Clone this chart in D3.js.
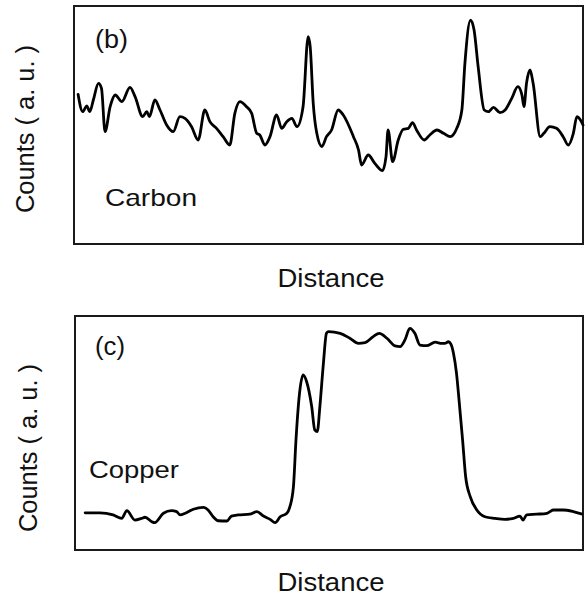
<!DOCTYPE html>
<html>
<head>
<meta charset="UTF-8">
<title>Line scans</title>
<script src="https://d3js.org/d3.v7.min.js"></script>
<style>
html, body { margin: 0; padding: 0; background: #fff; }
svg { display: block; }
text { font-family: "Liberation Sans", Arial, sans-serif; fill: #111; }
</style>
</head>
<body>
<div id="chart"></div>
<script>
// carbon line scan, panel (b) - distance (0-100) and counts (0-100, arbitrary)
var carbonDist = [0.8,1.7,2.5,3.1,3.8,4.8,5.4,6.1,7.1,8.1,9.4,11.0,12.0,13.5,14.3,14.8,15.9,16.9,18.2,19.5,
  20.8,21.8,23.1,24.4,25.7,26.7,28.0,29.3,30.6,31.6,32.6,33.9,34.9,35.9,36.5,37.5,38.5,39.8,40.8,41.8,
  42.8,43.8,45.0,46.0,46.4,47.0,47.7,48.7,49.6,50.6,51.9,52.9,54.9,55.9,56.5,57.8,59.1,60.6,61.3,61.7,
  62.6,63.7,64.7,65.7,66.5,67.3,68.8,69.9,71.3,72.6,73.9,75.2,76.2,76.8,77.9,78.6,79.4,80.6,81.4,82.4,
  83.7,84.7,86.0,87.2,88.0,88.4,88.9,89.6,90.2,91.6,92.3,93.5,94.8,96.1,97.1,98.1,98.8,99.5,100];
var carbonCounts = [62.9,55.6,58.0,55.6,60.5,67.5,65.4,47.2,57.7,62.6,59.8,65.8,61.9,53.5,55.6,53.5,60.5,56.3,50.0,47.2,
  53.5,52.8,49.3,43.7,56.3,51.4,48.6,45.1,41.6,54.9,59.8,57.7,54.9,46.5,45.8,41.6,45.1,54.2,48.6,51.4,
  52.8,49.3,57.7,87.1,82.9,59.1,46.5,40.9,45.1,47.9,56.3,54.2,45.1,39.5,33.2,37.4,33.9,30.8,36.7,47.9,
  34.6,43.7,48.2,48.6,51.0,47.9,43.7,45.8,47.9,46.5,45.1,48.6,56.3,75.9,94.1,89.9,74.5,56.3,55.6,57.4,
  55.2,56.3,61.2,66.1,62.6,57.7,67.5,73.1,67.5,45.1,46.5,49.3,48.6,45.1,41.6,46.5,53.5,52.1,50.0];

// copper line scan, panel (c)
var copperDist = [2.0,4.9,7.5,9.2,10.2,11.8,13.1,13.8,15.1,15.7,17.4,19.0,20.0,20.7,21.7,23.3,25.3,26.2,27.2,28.2,
  29.9,30.8,32.1,34.4,35.8,37.1,38.4,39.4,40.4,41.7,42.3,43.0,43.5,44.2,44.9,45.6,46.6,47.2,47.7,48.2,
  48.9,49.5,49.9,52.2,54.1,55.8,57.1,58.7,59.9,61.4,63.0,64.0,65.0,65.9,66.9,67.9,69.2,70.9,72.2,72.8,
  73.5,74.0,74.5,75.1,75.6,76.3,76.9,77.8,79.1,80.7,82.7,84.6,86.3,87.6,88.2,88.9,90.9,92.9,94.2,96.1,
  98.1,99.7];
var copperCounts = [15.9,15.9,15.0,13.5,16.8,12.8,13.5,14.0,12.1,11.7,15.7,16.8,16.4,15.0,15.7,17.4,18.2,17.1,14.2,12.5,
  12.4,14.5,15.0,15.3,16.4,14.5,13.1,11.7,14.2,15.7,18.5,27.1,47.0,67.0,74.8,71.9,61.2,51.3,50.6,61.2,
  79.8,92.6,93.3,92.6,90.5,88.3,88.6,91.2,92.6,90.5,87.2,86.9,90.0,94.7,92.6,87.6,87.3,88.8,88.3,88.3,
  89.0,88.0,84.1,75.5,64.1,47.0,31.3,22.8,17.1,14.2,13.5,13.1,13.5,14.5,12.8,15.0,15.3,15.7,17.1,17.1,
  16.4,15.4];

var panelTags = ["(b)", "(c)"];
var elements = ["Carbon", "Copper"];
var yTitle = "Counts ( a. u. )";
var xTitle = "Distance";

var W = 585, H = 596;
var svg = d3.select("#chart").append("svg")
  .attr("width", W)
  .attr("height", H);

var panels = [
  {dist: carbonDist, counts: carbonCounts, tag: panelTags[0], name: elements[0],
   left: 74, right: 583, top: 6, bottom: 244, tagY: 48, tagLen: 33, nameX: 105, nameY: 206, nameLen: 92,
   yLabX: 34, yLabY: 129, xLabY: 287},
  {dist: copperDist, counts: copperCounts, tag: panelTags[1], name: elements[1],
   left: 75, right: 583, top: 316, bottom: 550, tagY: 355, tagLen: 30, nameX: 89, nameY: 478, nameLen: 90,
   yLabX: 37, yLabY: 448, xLabY: 591}
];

panels.forEach(function(p) {
  var x = d3.scaleLinear().domain([0, 100]).range([p.left, p.right]);
  var y = d3.scaleLinear().domain([0, 100]).range([p.bottom, p.top]);

  var g = svg.append("g");

  g.append("rect")
    .attr("x", p.left)
    .attr("y", p.top)
    .attr("width", p.right - p.left)
    .attr("height", p.bottom - p.top)
    .attr("fill", "none")
    .attr("stroke", "#1a1a1a")
    .attr("stroke-width", 2);

  var pts = p.dist.map(function(d, i) { return [d, p.counts[i]]; });
  var line = d3.line()
    .x(function(d) { return x(d[0]); })
    .y(function(d) { return y(d[1]); })
    .curve(d3.curveMonotoneX);

  g.append("path")
    .datum(pts)
    .attr("d", line)
    .attr("fill", "none")
    .attr("stroke", "#000")
    .attr("stroke-width", 2.8)
    .attr("stroke-linejoin", "round")
    .attr("stroke-linecap", "round");

  g.append("text")
    .attr("x", 95)
    .attr("y", p.tagY)
    .attr("font-size", 26)
    .attr("textLength", p.tagLen)
    .attr("lengthAdjust", "spacingAndGlyphs")
    .text(p.tag);

  g.append("text")
    .attr("x", p.nameX)
    .attr("y", p.nameY)
    .attr("font-size", 24)
    .attr("textLength", p.nameLen)
    .attr("lengthAdjust", "spacingAndGlyphs")
    .text(p.name);

  g.append("text")
    .attr("transform", "translate(" + p.yLabX + "," + p.yLabY + ") rotate(-90)")
    .attr("text-anchor", "middle")
    .attr("font-size", 25)
    .attr("textLength", 168)
    .attr("lengthAdjust", "spacingAndGlyphs")
    .text(yTitle);

  g.append("text")
    .attr("x", 331)
    .attr("y", p.xLabY)
    .attr("text-anchor", "middle")
    .attr("font-size", 26)
    .attr("textLength", 107)
    .attr("lengthAdjust", "spacingAndGlyphs")
    .text(xTitle);
});
</script>
</body>
</html>
